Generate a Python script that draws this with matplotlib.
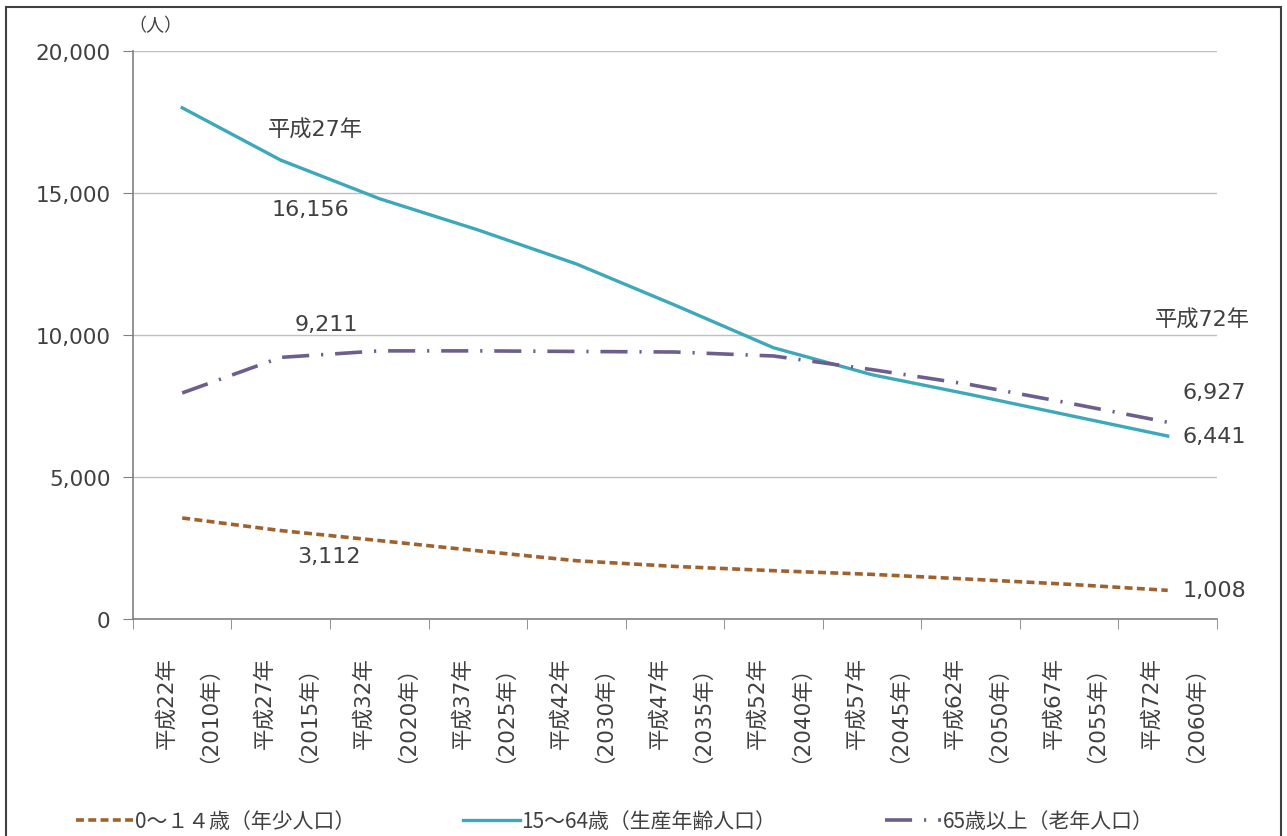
import matplotlib
matplotlib.use("Agg")
import matplotlib.pyplot as plt
from matplotlib.patches import Rectangle
from matplotlib.ticker import FuncFormatter, FixedLocator

plt.rcParams['font.family'] = ['DejaVu Sans', 'Noto Sans CJK JP']

# categories (x axis)
years = ['平成22年\n（2010年）', '平成27年\n（2015年）', '平成32年\n（2020年）',
         '平成37年\n（2025年）', '平成42年\n（2030年）', '平成47年\n（2035年）',
         '平成52年\n（2040年）', '平成57年\n（2045年）', '平成62年\n（2050年）',
         '平成67年\n（2055年）', '平成72年\n（2060年）']

# population by age group
young = [3556, 3112, 2760, 2400, 2050, 1850, 1700, 1570, 1400, 1220, 1008]
working = [18000, 16156, 14800, 13700, 12500, 11050, 9550, 8600, 7900, 7170, 6441]
elderly = [7958, 9211, 9440, 9440, 9420, 9400, 9260, 8780, 8250, 7600, 6927]

series_names = ['0～１４歳（年少人口）', '15～64歳（生産年齢人口）', '65歳以上（老年人口）']
yticks = [0, 5000, 10000, 15000, 20000]

txt = '#404040'

fig = plt.figure(figsize=(12.87, 8.37), dpi=100)
ax = fig.add_axes([0.1033, 0.2593, 0.8423, 0.6786])

x = list(range(len(years)))
l1, = ax.plot(x, young, color='#A0622D', lw=2.6, dashes=(2.2, 1.2))
l2, = ax.plot(x, working, color='#3DA8BA', lw=2.4)
l3, = ax.plot(x, elderly, color='#6E5E8E', lw=2.6, dashes=(7.5, 3.3, 0.6, 3.3))

ax.set_xlim(-0.5, len(years) - 0.5)
ax.set_ylim(0, 20000)
ax.set_yticks(yticks)
ax.yaxis.set_major_formatter(FuncFormatter(lambda v, p: f'{int(v):,}'))
ax.grid(axis='y', color='#BFBFBF', lw=1)
ax.set_axisbelow(True)

ax.set_xticks(x)
ax.set_xticklabels(years, rotation=90, fontsize=15.5, color=txt, linespacing=1.7,
                   multialignment='center')
ax.xaxis.set_minor_locator(FixedLocator([i - 0.5 for i in range(len(years) + 1)]))
ax.tick_params(axis='x', which='major', length=0, pad=17)
ax.tick_params(axis='x', which='minor', length=7, color='#808080', direction='out')
ax.tick_params(axis='y', length=7, color='#808080', labelsize=15.5, labelcolor=txt, pad=9)

for s in ['top', 'right']:
    ax.spines[s].set_visible(False)
for s in ['left', 'bottom']:
    ax.spines[s].set_color('#808080')
    ax.spines[s].set_linewidth(1.2)

ax.text(-0.004, 1.03, '（人）', transform=ax.transAxes, fontsize=13, color=txt,
        ha='left', va='bottom')

# value labels
def note(s, i, v, dx, dy, ha='center'):
    ax.annotate(s, xy=(i, v), xytext=(dx, dy), textcoords='offset pixels',
                ha=ha, va='center', fontsize=16, color=txt)

note('平成27年', 1, working[1], 35, 31)
note(f'{working[1]:,}', 1, working[1], 30, -49)
note(f'{elderly[1]:,}', 1, elderly[1], 46, 33)
note(f'{young[1]:,}', 1, young[1], 48, -25)
note('平成72年', 10, elderly[10], -13, 103, ha='left')
note(f'{elderly[10]:,}', 10, elderly[10], 15, 30, ha='left')
note(f'{working[10]:,}', 10, working[10], 15, 0, ha='left')
note(f'{young[10]:,}', 10, young[10], 15, 0, ha='left')

fig.legend([l1, l2, l3], series_names, loc='center', bbox_to_anchor=(0.478, 0.018),
           ncol=3, frameon=False, handlelength=2.7, handletextpad=0.1,
           columnspacing=5.2, labelcolor=txt,
           prop={'family': ['Noto Sans CJK JP'], 'size': 15})

fig.patches.append(Rectangle((6 / 1287, -0.1), 1275 / 1287, 1.1 - 8 / 837,
                             transform=fig.transFigure, fill=False,
                             edgecolor='#404040', lw=1.5))

fig.savefig('out.png', dpi=100)
